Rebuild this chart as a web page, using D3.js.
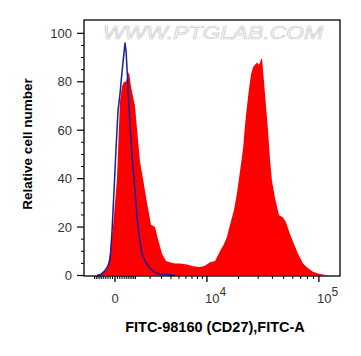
<!DOCTYPE html>
<html><head><meta charset="utf-8">
<script src="https://cdn.jsdelivr.net/npm/d3@7"></script>
<style>body{margin:0;background:#fff}svg{display:block}</style>
</head><body>
<script>
// Sample (red, filled) histogram: fluorescence channel value -> relative cell number
const sampleX = [-859,-695,-490,-346,-210,-81,0,81,210,300,393,490,590,642,748,859,974,1155,1281,1480,1763,2069,2399,2664,3041,3448,3887,4485,5143,6176,7178,8501,9561,10727,12008,13417,14645,15630,16674,18161,19349,20612,21949,22882,23852,24860,25906,26996,28123,29297,30513,31784,32435,33776,35171,36618,38121,39682,42139,45639,49419,52448,56764,61425,66465,73311,80850,89124,98259,110418,124026];
const sampleY = [0,0.5,1.5,3,9,20,30,40,72,78,80,80,83,84,78,74,70,56,47,40,30,21,20,15,9,6,5.5,5,5,4.5,3.8,3.5,4,5.5,6,10,13,16,21,27,34,43,52,62,70,77,83,86,87,88,87,89,89.8,80,70,60,48,39,32,25,24,22,17,13,9,5,3,1.5,0.8,0.3,0];
// Control (blue line) histogram
const controlX = [-859,-642,-441,-300,-210,-124,-40,40,124,210,300,393,441,490,590,695,803,916,1033,1124,1281,1412,1619,1990,2399,2848,3663,4485];
const controlY = [0,0.5,2,4,6,18,35,52,68,75,84,92,96,93,78,62,50,40,30,22,14,9,6,3,1.3,0.6,0.4,0];

const yTicks = [0,20,40,60,80,100];
const yMinorTicks = [5,10,15,25,30,35,45,50,55,65,70,75,85,90,95];
const xMajorTicks = [0,10000,100000];
const xMajorLabels = [{v:0,base:"0",exp:""},{v:10000,base:"10",exp:"4"},{v:100000,base:"10",exp:"5"}];
const xMinorTicks = [-1000,-900,-800,-700,-600,-500,-400,-300,-200,-100,100,200,300,400,500,600,700,800,900,1000,2000,3000,4000,5000,6000,7000,8000,9000,20000,30000,40000,50000,60000,70000,80000,90000];
const xTitle = "FITC-98160 (CD27),FITC-A";
const yTitle = "Relative cell number";
const watermark = "WWW.PTGLAB.COM";

const W = 361, H = 356;
const L = 84, R = 340, T = 20, B = 276;
const svg = d3.select("body").append("svg").attr("width", W).attr("height", H);
const font = "'Liberation Sans', Arial, sans-serif";

const x = d3.scaleSymlog().constant(2100).domain([-1690, 150486]).range([L, R]);
const y = d3.scaleLinear().domain([0, 105.5]).range([275.5, T]);

// watermark
svg.append("text").attr("x", 103).attr("y", 39)
  .attr("textLength", 220).attr("lengthAdjust", "spacingAndGlyphs")
  .style("font-family", font).style("font-size", "18px").style("font-style", "italic")
  .attr("fill", "#fbfbfb").attr("stroke", "#cfcfcf").attr("stroke-width", 0.7)
  .text(watermark);

const sample = sampleX.map((v, i) => [v, sampleY[i]]);
const control = controlX.map((v, i) => [v, controlY[i]]);

svg.append("path").datum(sample)
  .attr("d", d3.area().x(d => x(d[0])).y0(y(0)).y1(d => y(d[1])))
  .attr("fill", "#ff0000");

svg.append("path").datum(control)
  .attr("d", d3.line().x(d => x(d[0])).y(d => y(d[1])))
  .attr("fill", "none").attr("stroke", "#1c1c9e").attr("stroke-width", 1.5)
  .attr("stroke-linejoin", "round");

// frame
svg.append("rect").attr("x", L).attr("y", T).attr("width", R - L).attr("height", B - T)
  .attr("fill", "none").attr("stroke", "#000").attr("stroke-width", 1.3);

// y axis ticks
const gy = svg.append("g");
gy.selectAll("line.maj").data(yTicks).join("line")
  .attr("x1", L - 7).attr("x2", L).attr("y1", d => y(d)).attr("y2", d => y(d))
  .attr("stroke", "#000").attr("stroke-width", 1.2);
gy.selectAll("line.min").data(yMinorTicks).join("line")
  .attr("x1", L - 3).attr("x2", L).attr("y1", d => y(d)).attr("y2", d => y(d))
  .attr("stroke", "#000").attr("stroke-width", 1);
gy.selectAll("text").data(yTicks).join("text")
  .attr("x", 72).attr("y", d => y(d)).attr("dy", "0.36em").attr("text-anchor", "end")
  .style("font-family", font).style("font-size", "13px").attr("fill", "#333")
  .text(d => d);

// x axis ticks
const gx = svg.append("g");
gx.selectAll("line.min").data(xMinorTicks).join("line")
  .attr("x1", d => x(d)).attr("x2", d => x(d)).attr("y1", B).attr("y2", B + 3)
  .attr("stroke", "#000").attr("stroke-width", 1);
gx.selectAll("line.maj").data(xMajorTicks).join("line")
  .attr("x1", d => x(d)).attr("x2", d => x(d)).attr("y1", B).attr("y2", B + 6)
  .attr("stroke", "#000").attr("stroke-width", 1.3);
xMajorLabels.forEach(d => {
  const t = svg.append("text").attr("y", 303)
    .style("font-family", font).style("font-size", "13px").attr("fill", "#333");
  if (d.exp === "") {
    t.attr("x", x(d.v)).attr("text-anchor", "middle").text(d.base);
  } else {
    t.attr("x", x(d.v) - 2).attr("text-anchor", "start");
    t.append("tspan").text(d.base);
    t.append("tspan").attr("dy", -7).style("font-size", "12px").text(d.exp);
  }
});

// titles
svg.append("text").attr("x", 215).attr("y", 332).attr("text-anchor", "middle")
  .style("font-family", font).style("font-size", "14.5px").style("font-weight", "bold")
  .text(xTitle);
svg.append("text").attr("transform", "translate(32,144) rotate(-90)").attr("text-anchor", "middle")
  .style("font-family", font).style("font-size", "13.5px").style("font-weight", "bold")
  .text(yTitle);
</script>
</body></html>
